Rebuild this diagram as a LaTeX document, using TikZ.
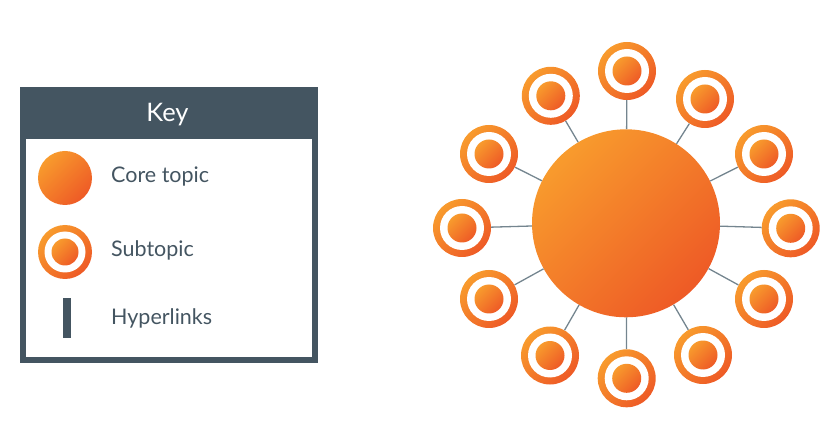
\documentclass[tikz,border=0pt]{standalone}
\usepackage{fontspec}
\setmainfont{Lato}
\definecolor{orL}{HTML}{F89B2D}
\definecolor{orD}{HTML}{EE5A26}
\definecolor{slate}{HTML}{445561}
\definecolor{spokec}{HTML}{74858F}
\begin{document}
\begin{tikzpicture}[x=1pt,y=-1pt,
  orangefill/.style={shading=axis, top color=orL, bottom color=orD, shading angle=45},
  core/.style={circle, inner sep=0pt, minimum size=#1, orangefill, draw=none},
  spoke/.style={draw=spokec, line width=1.3pt},
  keylabel/.style={anchor=base west, inner sep=0pt, text=slate, font=\fontsize{21.5}{24}\selectfont}
]
\useasboundingbox (0,0) rectangle (840,427);

% ---- key box ----
\node[draw=slate, line width=6pt, minimum width=291.5pt, minimum height=270pt, inner sep=0pt] (keybox) at (168.75,225) {};
\node[fill=slate, minimum width=297.5pt, minimum height=52pt, inner sep=0pt] (keyhead) at (168.75,113) {};
\node[text=white, font=\fontsize{25.5}{28}\selectfont, inner sep=0pt, anchor=base] (keytitle) at (167.5,121.7) {Key};

\node[core=54pt] (kcore) at (65,178) {};
\node[keylabel] (lcore) at (111,182.7) {Core topic};

\node[core=54pt] (ksub) at (65,252) {};
\fill[white] (ksub.center) circle[radius=20.5];
\shade[orangefill] (ksub.center) circle[radius=13.5];
\node[keylabel] (lsub) at (111,256.7) {Subtopic};

\node[fill=slate, minimum width=8pt, minimum height=40pt, inner sep=0pt] (klink) at (67,318) {};
\node[keylabel] (llink) at (111,325) {Hyperlinks};

% ---- hub ----
\node[core=188pt] (hub) at (626,223.3) {};
\foreach \i/\px/\py in {1/627/71, 2/705/99, 3/764/154, 4/790.7/228.3, 5/764/299, 6/703/355,
                        7/626.7/378.3, 8/550/355.5, 9/489/299, 10/462/228, 11/489/154, 12/550.8/95.8}{
  \node[core=58pt] (s\i) at (\px,\py) {};
  \fill[white] (s\i.center) circle[radius=22];
  \shade[orangefill] (s\i.center) circle[radius=14.5];
  \draw[spoke] (hub) -- (s\i);
}
\end{tikzpicture}
\end{document}
